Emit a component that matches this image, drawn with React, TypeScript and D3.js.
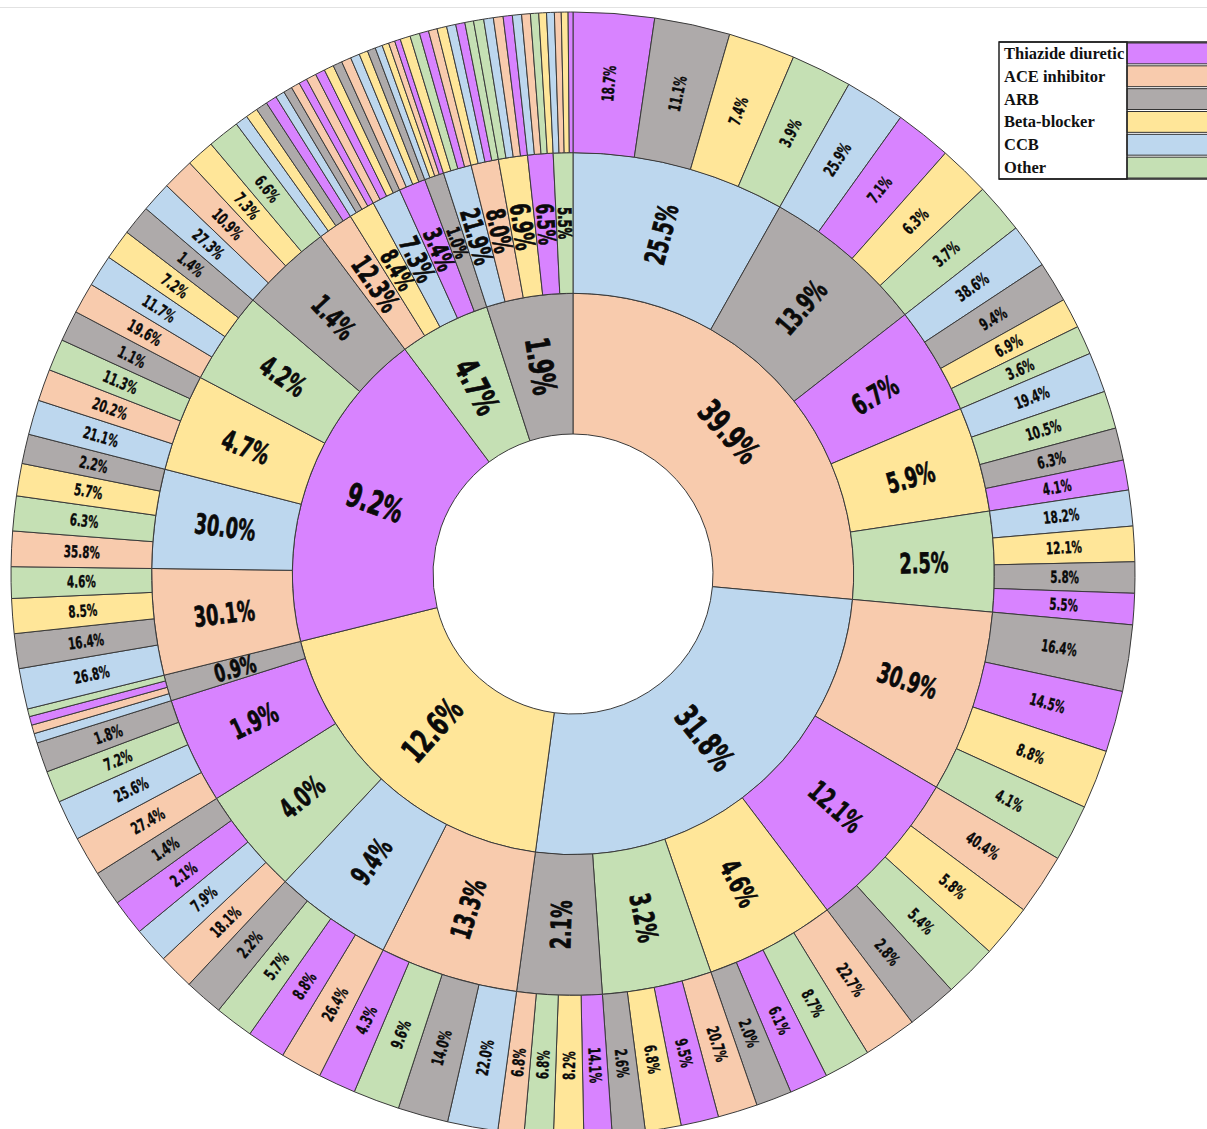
import React, { useEffect, useRef } from 'react';
import * as d3 from 'd3';

// drug codes used below
const drugNames: Record<string, string> = {
  T: 'Thiazide diuretic', A: 'ACE inhibitor', R: 'ARB', B: 'Beta-blocker', C: 'CCB', O: 'Other',
};
const legendOrder = ['T', 'A', 'R', 'B', 'C', 'O'];
const drugColors: Record<string, string> = {
  T: '#d883ff', A: '#f8cbad', R: '#aeaaaa', B: '#ffe699', C: '#bdd7ee', O: '#c5e0b4',
};

// first-line treatment (inner ring)
const firstLine = ['A', 'C', 'B', 'T', 'O', 'R'];
const firstLabels = ['39.9%', '31.8%', '12.6%', '9.2%', '4.7%', '1.9%'];
const firstTangential = [true, false, false, false, false, false];

// second line rows: [drug, label, third line leaves [drug, label, angular size]]
const afterACE: any[] = [
  ['C', '25.5%', [['T', '18.7%', 8.37], ['R', '11.1%', 7.82], ['B', '7.4%', 6.91], ['O', '3.9%', 6.3]]],
  ['R', '13.9%', [['C', '25.9%', 6.26], ['T', '7.1%', 5.84], ['B', '6.3%', 5.3], ['O', '3.7%', 5.2]]],
  ['T', '6.7%', [['C', '38.6%', 4.6], ['R', '9.4%', 4.2], ['B', '6.9%', 3.1], ['O', '3.6%', 3.0]]],
  ['B', '5.9%', [['C', '19.4%', 4.15], ['O', '10.5%', 3.9], ['R', '6.3%', 3.35], ['T', '4.1%', 3.1]]],
  ['O', '2.5%', [['C', '18.2%', 3.7], ['B', '12.1%', 3.65], ['R', '5.8%', 3.22], ['T', '5.5%', 3.23]]],
];
const afterCCB: any[] = [
  ['A', '30.9%', [['R', '16.4%', 6.87], ['T', '14.5%', 6.33], ['B', '8.8%', 6.1], ['O', '4.1%', 5.9]]],
  ['T', '12.1%', [['A', '40.4%', 6.3], ['B', '5.8%', 5.5], ['O', '5.4%', 5.5], ['R', '2.8%', 5.2]]],
  ['B', '4.6%', [['A', '22.7%', 5.5], ['O', '8.7%', 4.8], ['T', '6.1%', 4.0], ['R', '2.0%', 3.7]]],
  ['O', '3.2%', [['A', '20.7%', 4.1], ['T', '9.5%', 3.9], ['B', '6.8%', 3.7], ['R', '2.6%', 3.4]]],
  ['R', '2.1%', [['T', '14.1%', 2.9], ['B', '8.2%', 3.1], ['O', '6.8%', 3.0], ['A', '6.8%', 2.7]]],
];
const afterBeta: any[] = [
  ['A', '13.3%', [['C', '22.0%', 5.2], ['R', '14.0%', 5.2], ['O', '9.6%', 4.8], ['T', '4.3%', 3.9]]],
  ['C', '9.4%', [['A', '26.4%', 4.3], ['T', '8.8%', 4.0], ['O', '5.7%', 4.0], ['R', '2.2%', 4.0]]],
  ['O', '4.0%', [['A', '18.1%', 3.7], ['C', '7.9%', 3.7], ['T', '2.1%', 3.7], ['R', '1.4%', 3.6]]],
  ['T', '1.9%', [['A', '27.4%', 4.1], ['C', '25.6%', 4.2], ['O', '7.2%', 3.3], ['R', '1.8%', 3.1]]],
  ['R', '0.9%', [['C', '', 1.0], ['A', '', 0.9], ['T', '', 0.9], ['O', '', 0.8]]],
];
const afterThiazide: any[] = [
  ['A', '30.1%', [['C', '26.8%', 4.2], ['R', '16.4%', 3.6], ['B', '8.5%', 3.6], ['O', '4.6%', 3.25]]],
  ['C', '30.0%', [['A', '35.8%', 3.65], ['O', '6.3%', 3.6], ['B', '5.7%', 3.35], ['R', '2.2%', 3.05]]],
  ['B', '4.7%', [['C', '21.1%', 3.6], ['A', '20.2%', 3.3], ['O', '11.3%', 3.3], ['R', '1.1%', 3.2]]],
  ['O', '4.2%', [['A', '19.6%', 3.2], ['C', '11.7%', 3.3], ['B', '7.2%', 3.15], ['R', '1.4%', 3.1]]],
  ['R', '1.4%', [['C', '27.3%', 3.15], ['A', '10.9%', 3.3], ['B', '7.3%', 2.9], ['O', '6.6%', 3.3]]],
];
const afterOther: any[] = [
  ['A', '12.3%', [['C', '', 1.3], ['B', '', 1.25], ['R', '', 1.2], ['T', '', 1.15]]],
  ['B', '8.4%', [['C', '', 0.95], ['R', '', 0.9], ['A', '', 0.9], ['T', '', 0.85]]],
  ['C', '7.3%', [['A', '', 1.05], ['T', '', 1.0], ['B', '', 1.0], ['R', '', 0.95]]],
  ['T', '3.4%', [['A', '', 1.0], ['C', '', 0.95], ['B', '', 0.9], ['R', '', 0.85]]],
  ['R', '1.0%', [['C', '', 0.75], ['B', '', 0.7], ['A', '', 0.65], ['T', '', 0.6]]],
];
const afterARB: any[] = [
  ['C', '21.9%', [['B', '', 1.05], ['O', '', 1.0], ['T', '', 0.95], ['A', '', 0.9]]],
  ['A', '8.0%', [['B', '', 1.0], ['C', '', 0.95], ['T', '', 0.95], ['O', '', 0.9]]],
  ['B', '6.9%', [['O', '', 1.05], ['C', '', 1.0], ['A', '', 1.0], ['T', '', 0.95]]],
  ['T', '6.5%', [['C', '', 0.95], ['A', '', 0.9], ['O', '', 0.85], ['B', '', 0.8]]],
  ['O', '5.5%', [['C', '', 0.8], ['A', '', 0.7], ['B', '', 0.7], ['T', '', 0.5]]],
];
const secondLine = [afterACE, afterCCB, afterBeta, afterThiazide, afterOther, afterARB];

const W = 1207;
const H = 1129;
const cx = 573;
const cy = 574;
const labelFont = "'DejaVu Sans Condensed', 'DejaVu Sans', sans-serif";

function App() {
  const ref = useRef<SVGSVGElement>(null);

  useEffect(() => {
    const svg = d3.select(ref.current);
    svg.selectAll('*').remove();

    const data = {
      children: firstLine.map((d, i) => ({
        drug: d,
        label: firstLabels[i],
        tangential: firstTangential[i],
        children: secondLine[i].map(([drug, label, leaves]: any) => ({
          drug,
          label,
          children: leaves.map(([drug, label, size]: any) => ({ drug, label, size })),
        })),
      })),
    };

    const root = d3.hierarchy<any>(data).sum((d: any) => d.size || 0);
    d3.partition<any>().size([2 * Math.PI, 4])(root);
    const r = d3.scaleLinear().domain([1, 4]).range([140, 562]);

    const arc = d3.arc<any>()
      .startAngle((d) => d.x0)
      .endAngle((d) => d.x1)
      .innerRadius((d) => r(d.y0))
      .outerRadius((d) => r(d.y1));

    svg.append('line')
      .attr('x1', 0).attr('x2', W).attr('y1', 7.5).attr('y2', 7.5)
      .attr('stroke', '#e2e2e2').attr('stroke-width', 1);

    const g = svg.append('g').attr('transform', `translate(${cx},${cy})`);
    const nodes = root.descendants().filter((d) => d.depth > 0);

    g.selectAll('path')
      .data(nodes)
      .enter()
      .append('path')
      .attr('d', arc)
      .attr('fill', (d) => drugColors[d.data.drug])
      .attr('stroke', '#3a3a3a')
      .attr('stroke-width', 1);

    const baseSize = [0, 33, 28, 16.5];
    const strokeW = [0, 0.8, 0.7, 0.35];
    g.selectAll('text')
      .data(nodes.filter((d) => d.data.label))
      .enter()
      .append('text')
      .attr('transform', (d: any) => {
        const a = (d.x0 + d.x1) / 2;
        const deg = (a * 180) / Math.PI;
        const rm = r((d.y0 + d.y1) / 2);
        let rot;
        if (d.data.tangential) {
          rot = deg;
          if (rot > 270) rot -= 360;
          else if (rot > 90) rot -= 180;
        } else {
          rot = deg - 90;
          if (rot > 90) rot -= 180;
        }
        return `translate(${rm * Math.sin(a)},${-rm * Math.cos(a)}) rotate(${rot}) scale(0.7,1)`;
      })
      .attr('text-anchor', 'middle')
      .attr('dominant-baseline', 'central')
      .style('font-family', labelFont)
      .style('font-weight', 'bold')
      .style('font-size', (d: any) => {
        const rm = r((d.y0 + d.y1) / 2);
        return `${Math.min(baseSize[d.depth], rm * (d.x1 - d.x0) * 1.1)}px`;
      })
      .attr('fill', '#0a0a0a')
      .attr('stroke', '#0a0a0a')
      .attr('stroke-width', (d: any) => strokeW[d.depth])
      .text((d: any) => d.data.label);

    // legend
    const lx = 999;
    const rows = d3.scaleBand().domain(legendOrder).range([42, 179]);
    const lg = svg.append('g');
    lg.selectAll('rect.cell')
      .data(legendOrder)
      .enter()
      .append('rect')
      .attr('class', 'cell')
      .attr('x', 1127)
      .attr('y', (d) => rows(d)! + 1)
      .attr('width', 120)
      .attr('height', rows.bandwidth() - 2)
      .attr('fill', (d) => drugColors[d])
      .attr('stroke', '#333')
      .attr('stroke-width', 1);
    lg.append('rect')
      .attr('x', lx).attr('y', 42).attr('width', 128).attr('height', 137)
      .attr('fill', 'none').attr('stroke', '#222').attr('stroke-width', 1.5);
    lg.append('line')
      .attr('x1', lx).attr('x2', W).attr('y1', 42).attr('y2', 42)
      .attr('stroke', '#222').attr('stroke-width', 1.5);
    lg.append('line')
      .attr('x1', lx).attr('x2', W).attr('y1', 179).attr('y2', 179)
      .attr('stroke', '#222').attr('stroke-width', 1.5);
    lg.selectAll('text')
      .data(legendOrder)
      .enter()
      .append('text')
      .attr('x', lx + 5)
      .attr('y', (d) => rows(d)! + rows.bandwidth() / 2 + 5.5)
      .style('font-family', "'Liberation Serif', 'Times New Roman', serif")
      .style('font-weight', 'bold')
      .style('font-size', '16.5px')
      .attr('fill', '#111')
      .text((d) => drugNames[d]);
  }, []);

  return (
    <div style={{ position: 'absolute', left: 0, top: 0, background: '#fff' }}>
      <svg ref={ref} width={W} height={H} style={{ display: 'block' }} />
    </div>
  );
}

export default App;
